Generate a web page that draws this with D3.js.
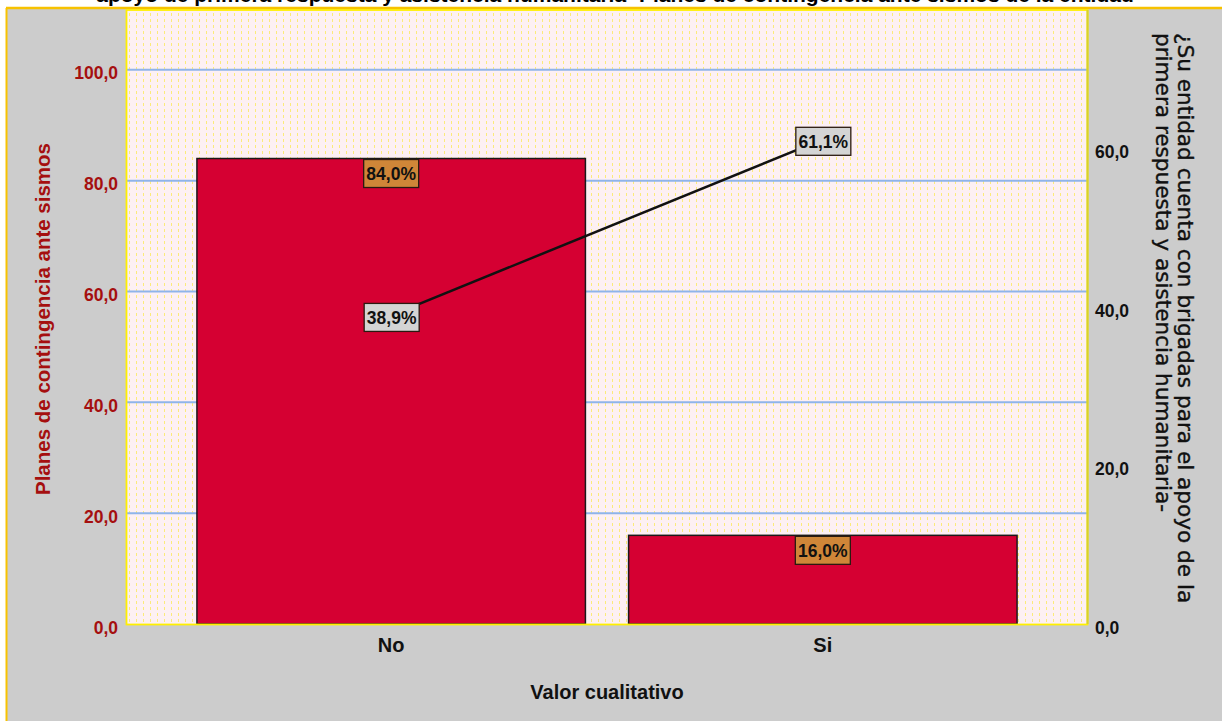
<!DOCTYPE html>
<html>
<head>
<meta charset="utf-8">
<script src="https://cdn.jsdelivr.net/npm/d3@7/dist/d3.min.js"></script>
<style>
  html, body { margin: 0; padding: 0; background: #ffffff; }
  svg { display: block; }
</style>
</head>
<body>
<svg id="chart" width="1222" height="721"></svg>
<script>
// Categories and values
const categories = ["No", "Si"];
const barValues = [84.0, 16.0];          // Planes de contingencia ante sismos (%)
const lineValues = [38.9, 61.1];         // Brigadas de primera respuesta (%)
const leftTicks = [0, 20, 40, 60, 80, 100];
const rightTicks = [0, 20, 40, 60];

const titleText = "apoyo de primera respuesta y asistencia humanitaria- Planes de contingencia ante sismos de la entidad";
const leftTitle = "Planes de contingencia ante sismos";
const rightTitleLines = ["¿Su entidad cuenta con brigadas para el apoyo de la", "primera respuesta y asistencia humanitaria-"];
const xTitle = "Valor cualitativo";

const fmt = v => d3.format(".1f")(v).replace(".", ",");

const svg = d3.select("#chart");
const W = 1222, H = 721;
const plot = { left: 127, right: 1087, top: 10, bottom: 624 };
const FONT = "'Liberation Sans', Arial, sans-serif";
const FONT2 = "'DejaVu Sans', sans-serif";

// Frame background
svg.append("rect").attr("x", 0).attr("y", 0).attr("width", W).attr("height", H).attr("fill", "#ffffff");
svg.append("rect").attr("x", 6).attr("y", 8).attr("width", W - 6).attr("height", H - 8).attr("fill", "#cccccc");
svg.append("line").attr("x1", 6).attr("x2", W).attr("y1", 8).attr("y2", 8)
  .attr("stroke", "#f7c200").attr("stroke-width", 2.5);
svg.append("line").attr("x1", 6.5).attr("x2", 6.5).attr("y1", 8).attr("y2", H)
  .attr("stroke", "#f7c200").attr("stroke-width", 2);

// Title, running off the top edge
svg.append("text").attr("x", 615).attr("y", 1.5).attr("text-anchor", "middle")
  .attr("font-family", FONT).attr("font-weight", "bold").attr("font-size", 21)
  .attr("fill", "#000").text(titleText);

// Dotted plot background
const defs = svg.append("defs");
const pat = defs.append("pattern").attr("id", "dots").attr("patternUnits", "userSpaceOnUse")
  .attr("width", 7).attr("height", 6);
pat.append("rect").attr("width", 7).attr("height", 6).attr("fill", "#fdf0f3");
pat.append("rect").attr("x", 3).attr("y", 1).attr("width", 1).attr("height", 3).attr("fill", "#fbeb7a");

svg.append("rect").attr("x", plot.left).attr("y", plot.top)
  .attr("width", plot.right - plot.left).attr("height", plot.bottom - plot.top)
  .attr("fill", "url(#dots)");

// Scales
const x = d3.scaleBand().domain(categories).range([plot.left, plot.right])
  .paddingInner(0.1).paddingOuter(0.162);
const yL = d3.scaleLinear().domain([0, 110.8]).range([plot.bottom, plot.top]);
const yR = d3.scaleLinear().domain([0, 77.4]).range([plot.bottom, plot.top]);

// Gridlines
svg.append("g").selectAll("line").data(leftTicks.filter(d => d > 0)).join("line")
  .attr("x1", plot.left).attr("x2", plot.right)
  .attr("y1", d => yL(d)).attr("y2", d => yL(d))
  .attr("stroke", "#8fb4ea").attr("stroke-width", 2);

// Bars
svg.append("g").selectAll("rect").data(categories).join("rect")
  .attr("x", d => x(d)).attr("width", x.bandwidth())
  .attr("y", (d, i) => yL(barValues[i]))
  .attr("height", (d, i) => yL(0) - yL(barValues[i]))
  .attr("fill", "#d50032").attr("stroke", "#1a1a1a").attr("stroke-width", 1.5);

// Plot border
svg.append("rect").attr("x", plot.left - 0.5).attr("y", plot.top)
  .attr("width", plot.right - plot.left + 1).attr("height", plot.bottom - plot.top + 0.5)
  .attr("fill", "none").attr("stroke", "#fff000").attr("stroke-width", 1.8);
svg.append("line").attr("x1", plot.right + 0.5).attr("x2", plot.right + 0.5)
  .attr("y1", plot.top).attr("y2", plot.bottom)
  .attr("stroke", "#d8d22a").attr("stroke-width", 2);

// Line series
const line = d3.line().x((d, i) => x(categories[i]) + x.bandwidth() / 2).y(d => yR(d));
svg.append("path").datum(lineValues).attr("d", line)
  .attr("fill", "none").attr("stroke", "#111").attr("stroke-width", 2.5);

// Boxed value label
function valueLabel(cx, cy, text, fill) {
  const g = svg.append("g");
  g.append("rect").attr("x", cx - 27.5).attr("y", cy - 14)
    .attr("width", 55).attr("height", 28)
    .attr("fill", fill).attr("stroke", "#2a1a10").attr("stroke-width", 1.3);
  g.append("text").attr("x", cx).attr("y", cy + 6.5).attr("text-anchor", "middle")
    .attr("font-family", FONT).attr("font-weight", "bold").attr("font-size", 17.5)
    .attr("fill", "#111").text(text);
}

// Bar labels sit just inside bar tops
categories.forEach((c, i) => {
  valueLabel(x(c) + x.bandwidth() / 2, yL(barValues[i]) + 15, fmt(barValues[i]) + "%", "#cf8638");
});
// Line point labels
categories.forEach((c, i) => {
  valueLabel(x(c) + x.bandwidth() / 2 + 0.5, yR(lineValues[i]) + 2, fmt(lineValues[i]) + "%", "#d4d4d4");
});

// Left axis
const leftAxis = svg.append("g").attr("transform", `translate(${plot.left},0)`)
  .call(d3.axisLeft(yL).tickValues(leftTicks).tickFormat(fmt).tickSize(0).tickPadding(9));
leftAxis.select(".domain").remove();
leftAxis.selectAll("text").attr("font-family", FONT).attr("font-weight", "bold")
  .attr("font-size", 17.5).attr("fill", "#a50f0f").attr("dy", "0.35em").attr("y", 3);

// Right axis
const rightAxis = svg.append("g").attr("transform", `translate(${plot.right},0)`)
  .call(d3.axisRight(yR).tickValues(rightTicks).tickFormat(fmt).tickSize(0).tickPadding(8));
rightAxis.select(".domain").remove();
rightAxis.selectAll("text").attr("font-family", FONT).attr("font-weight", "bold")
  .attr("font-size", 17.5).attr("fill", "#111").attr("y", 4);

// Bottom axis
const bottomAxis = svg.append("g").attr("transform", `translate(0,${plot.bottom})`)
  .call(d3.axisBottom(x).tickSize(0).tickPadding(14));
bottomAxis.select(".domain").remove();
bottomAxis.selectAll("text").attr("font-family", FONT).attr("font-weight", "bold")
  .attr("font-size", 20).attr("fill", "#111");

// Axis titles
svg.append("text").attr("transform", "translate(50,319) rotate(-90)")
  .attr("text-anchor", "middle").attr("font-family", FONT).attr("font-weight", "bold")
  .attr("font-size", 20.5).attr("fill", "#a50f0f").text(leftTitle);

const rt = svg.append("text").attr("transform", "translate(1178,33) rotate(90)")
  .attr("font-family", FONT2).attr("font-size", 21.6)
  .attr("fill", "#111").attr("stroke", "#111").attr("stroke-width", 0.35);
rightTitleLines.forEach((l, i) => {
  rt.append("tspan").attr("x", 0).attr("y", i * 22).text(l);
});

svg.append("text").attr("x", 607).attr("y", 699).attr("text-anchor", "middle")
  .attr("font-family", FONT).attr("font-weight", "bold").attr("font-size", 20)
  .attr("fill", "#111").text(xTitle);
</script>
</body>
</html>
